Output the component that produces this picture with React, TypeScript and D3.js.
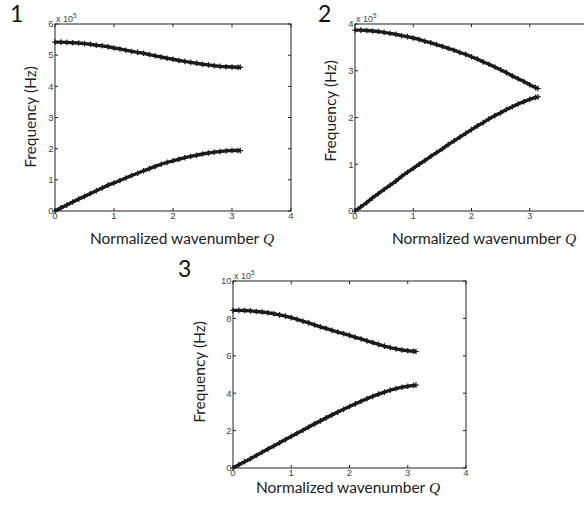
import React, { useRef, useEffect } from "react";
import * as d3 from "d3";

// normalized wavenumber samples (last one is pi)
const qValues = [
  0, 0.1, 0.2, 0.3, 0.4, 0.5, 0.6, 0.7, 0.8, 0.9, 1.0, 1.1, 1.2, 1.3, 1.4, 1.5,
  1.6, 1.7, 1.8, 1.9, 2.0, 2.1, 2.2, 2.3, 2.4, 2.5, 2.6, 2.7, 2.8, 2.9, 3.0, 3.1,
  3.1416,
];

// frequencies in units of 1e5 Hz
const upper1 = [
  5.42, 5.42, 5.41, 5.4, 5.39, 5.37, 5.35, 5.32, 5.3, 5.27, 5.23, 5.2, 5.16, 5.12,
  5.09, 5.06, 5.02, 4.98, 4.94, 4.9, 4.87, 4.83, 4.8, 4.77, 4.74, 4.71, 4.69, 4.66,
  4.64, 4.63, 4.62, 4.61, 4.61,
];
const lower1 = [
  0, 0.1, 0.19, 0.29, 0.38, 0.47, 0.56, 0.65, 0.74, 0.83, 0.9, 0.98, 1.06, 1.14,
  1.21, 1.29, 1.36, 1.43, 1.5, 1.56, 1.61, 1.66, 1.71, 1.75, 1.79, 1.83, 1.86, 1.89,
  1.91, 1.93, 1.94, 1.94, 1.94,
];
const upper2 = [
  3.87, 3.87, 3.86, 3.85, 3.84, 3.82, 3.8, 3.78, 3.75, 3.73, 3.7, 3.67, 3.63, 3.6,
  3.56, 3.52, 3.48, 3.44, 3.39, 3.35, 3.3, 3.25, 3.19, 3.14, 3.08, 3.02, 2.96, 2.89,
  2.83, 2.77, 2.7, 2.64, 2.62,
];
const lower2 = [
  0, 0.09, 0.18, 0.28, 0.37, 0.46, 0.55, 0.64, 0.74, 0.83, 0.91, 1.0, 1.08, 1.17,
  1.25, 1.33, 1.42, 1.5, 1.58, 1.66, 1.74, 1.82, 1.89, 1.97, 2.04, 2.1, 2.17, 2.23,
  2.29, 2.34, 2.39, 2.43, 2.44,
];
const upper3 = [
  8.43, 8.43, 8.42, 8.4, 8.37, 8.34, 8.3, 8.25, 8.19, 8.12, 8.04, 7.95, 7.85, 7.76,
  7.65, 7.55, 7.46, 7.36, 7.27, 7.18, 7.09, 6.99, 6.9, 6.8, 6.71, 6.61, 6.52, 6.44,
  6.37, 6.31, 6.27, 6.24, 6.23,
];
const lower3 = [
  0, 0.17, 0.34, 0.5, 0.67, 0.84, 1.01, 1.18, 1.35, 1.52, 1.69, 1.86, 2.02, 2.19,
  2.36, 2.52, 2.68, 2.84, 2.99, 3.14, 3.29, 3.43, 3.57, 3.71, 3.83, 3.95, 4.06, 4.16,
  4.25, 4.32, 4.37, 4.42, 4.43,
];

const xTicks = [0, 1, 2, 3, 4];
const yTicks1 = [0, 1, 2, 3, 4, 5, 6];
const yTicks2 = [0, 1, 2, 3, 4];
const yTicks3 = [0, 2, 4, 6, 8, 10];

const W = 584;
const H = 512;

const panels = [
  {
    name: "1", left: 55, top: 24, width: 236, height: 187, yMax: 6, yTicks: yTicks1,
    series: [upper1, lower1], num: [10, 22], xLab: [182, 244], yLab: [36, 117],
  },
  {
    name: "2", left: 355, top: 24, width: 233, height: 187, yMax: 4, yTicks: yTicks2,
    series: [upper2, lower2], num: [318, 22], xLab: [484, 244], yLab: [336, 111],
  },
  {
    name: "3", left: 233, top: 281, width: 233, height: 187, yMax: 10, yTicks: yTicks3,
    series: [upper3, lower3], num: [178, 277], xLab: [348, 493], yLab: [205, 372],
  },
];

const tickFont = "'Liberation Sans', Arial, sans-serif";
const labelFont = "Lato, 'Open Sans', sans-serif";

export default function App() {
  const svgRef = useRef<SVGSVGElement>(null);

  useEffect(() => {
    const svg = d3.select(svgRef.current);
    svg.selectAll("*").remove();

    panels.forEach((p) => {
      const x = d3.scaleLinear().domain([0, 4]).range([p.left, p.left + p.width]);
      const y = d3.scaleLinear().domain([0, p.yMax]).range([p.top + p.height, p.top]);
      const g = svg.append("g");
      const bottom = p.top + p.height;
      const right = p.left + p.width;

      // box
      g.append("rect")
        .attr("x", p.left)
        .attr("y", p.top)
        .attr("width", p.width)
        .attr("height", p.height)
        .attr("fill", "none")
        .attr("stroke", "#222")
        .attr("stroke-width", 1);

      // inward ticks on all four sides (matlab style)
      xTicks.forEach((t) => {
        g.append("line").attr("x1", x(t)).attr("x2", x(t)).attr("y1", bottom).attr("y2", bottom - 3).attr("stroke", "#222");
        g.append("line").attr("x1", x(t)).attr("x2", x(t)).attr("y1", p.top).attr("y2", p.top + 3).attr("stroke", "#222");
        if (x(t) > W - 3) return; // label falls outside the figure
        g.append("text")
          .attr("x", x(t))
          .attr("y", bottom + 8)
          .attr("text-anchor", "middle")
          .attr("font-family", tickFont)
          .attr("font-size", 9.5)
          .attr("fill", "#444")
          .text(t);
      });
      p.yTicks.forEach((t) => {
        g.append("line").attr("x1", p.left).attr("x2", p.left + 3).attr("y1", y(t)).attr("y2", y(t)).attr("stroke", "#222");
        g.append("line").attr("x1", right).attr("x2", right - 3).attr("y1", y(t)).attr("y2", y(t)).attr("stroke", "#222");
        g.append("text")
          .attr("x", p.left - 1.5)
          .attr("y", y(t))
          .attr("dy", "0.35em")
          .attr("text-anchor", "end")
          .attr("font-family", tickFont)
          .attr("font-size", 9.5)
          .attr("fill", "#444")
          .text(t);
      });

      // exponent label
      const ex = g.append("text")
        .attr("x", p.left + 1)
        .attr("y", p.top - 2.5)
        .attr("font-family", tickFont)
        .attr("font-size", 9)
        .attr("fill", "#444");
      ex.append("tspan").text("x 10");
      ex.append("tspan").attr("font-size", 6.5).attr("dy", -4).text("5");

      // data: thick line + '+' markers
      const line = d3
        .line<number>()
        .x((d, i) => x(qValues[i]))
        .y((d) => y(d));
      p.series.forEach((s) => {
        g.append("path")
          .attr("d", line(s))
          .attr("fill", "none")
          .attr("stroke", "#1a1a1a")
          .attr("stroke-width", 3.4);
        g.append("g")
          .selectAll("path")
          .data(s)
          .join("path")
          .attr("transform", (d, i) => `translate(${x(qValues[i])},${y(d)})`)
          .attr("d", "M-2.8,0H2.8M0,-2.8V2.8")
          .attr("stroke", "#1a1a1a")
          .attr("stroke-width", 1.2);
      });

      // axis labels
      const xl = g.append("text")
        .attr("x", p.xLab[0])
        .attr("y", p.xLab[1])
        .attr("text-anchor", "middle")
        .attr("font-family", labelFont)
        .attr("font-size", 15.5)
        .attr("fill", "#222");
      xl.append("tspan").text("Normalized wavenumber ");
      xl.append("tspan")
        .attr("font-family", "'Liberation Serif', serif")
        .attr("font-style", "italic")
        .text("Q");

      g.append("text")
        .attr("transform", `translate(${p.yLab[0]},${p.yLab[1]}) rotate(-90)`)
        .attr("text-anchor", "middle")
        .attr("font-family", labelFont)
        .attr("font-size", 15.5)
        .attr("fill", "#222")
        .text("Frequency (Hz)");

      g.append("text")
        .attr("x", p.num[0])
        .attr("y", p.num[1])
        .attr("font-family", labelFont)
        .attr("font-size", 23)
        .attr("fill", "#111")
        .text(p.name);
    });
  }, []);

  return (
    <svg
      ref={svgRef}
      width={W}
      height={H}
      style={{ position: "absolute", left: 0, top: 0, background: "#fff" }}
    />
  );
}
